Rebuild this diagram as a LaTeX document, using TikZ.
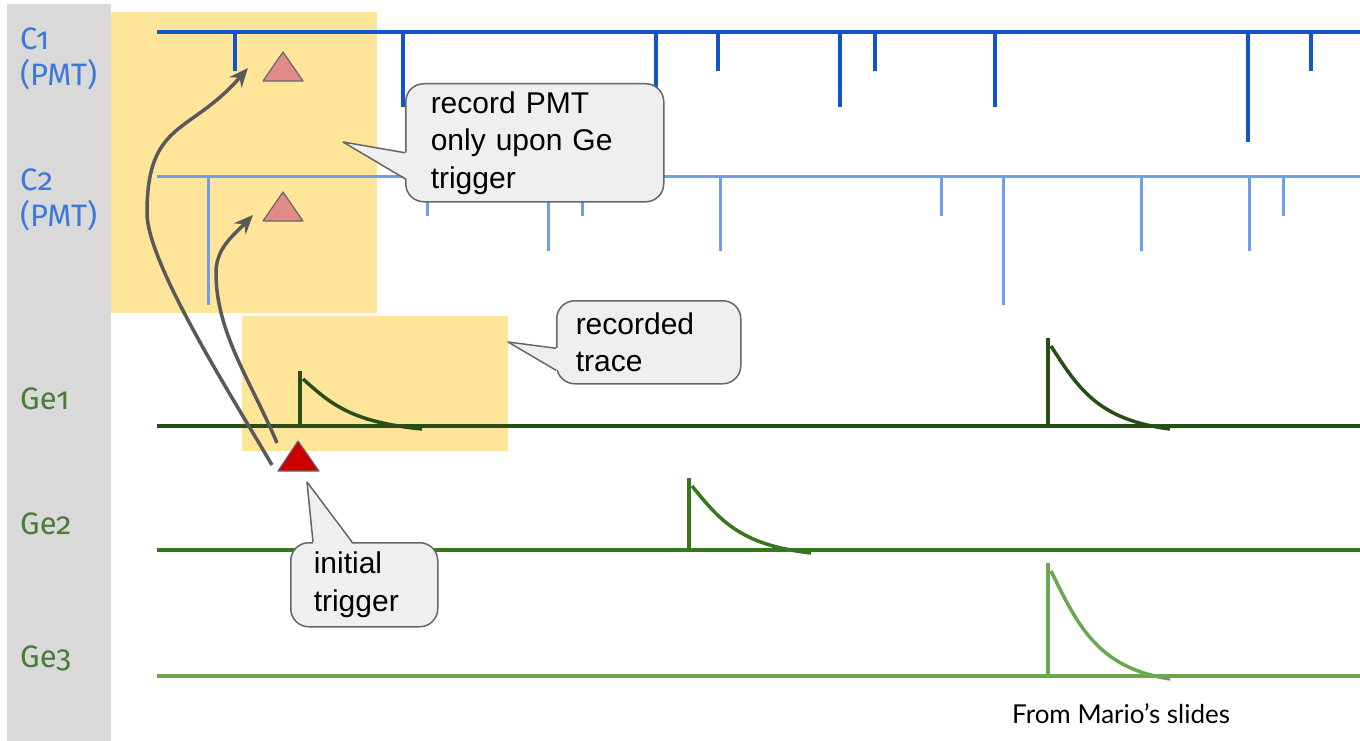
\documentclass[tikz,border=0pt]{standalone}
\usepackage{fontspec}
\setmainfont{Liberation Sans}
\newfontfamily\chanfont[Numbers=OldStyle]{Fira Sans}
\newfontfamily\notefont{Lato}
\usetikzlibrary{arrows.meta}

\definecolor{bandgray}{HTML}{D9D9D9}
\definecolor{hilite}{HTML}{FFE599}
\definecolor{pmtdark}{HTML}{1155CC}
\definecolor{pmtlight}{HTML}{6D9EEB}
\definecolor{pmtlabel}{HTML}{3C78D8}
\definecolor{geone}{HTML}{274E13}
\definecolor{getwo}{HTML}{38761D}
\definecolor{gethree}{HTML}{6AA84F}
\definecolor{gelabel}{HTML}{4A7B3C}
\definecolor{calloutfill}{HTML}{EFEFEF}
\definecolor{calloutline}{HTML}{666666}
\definecolor{arrowgray}{HTML}{595959}
\definecolor{pinktrig}{HTML}{E08A8A}
\definecolor{redtrig}{HTML}{CC0000}

\begin{document}
\begin{tikzpicture}[x=1pt,y=-1pt,
    chanlabel/.style={anchor=base west, inner sep=0pt, font=\chanfont\fontsize{31}{33}\selectfont},
    callout/.style={draw=calloutline, fill=calloutfill, line width=1.5pt, rounded corners=18pt,
        anchor=north west, align=left, inner ysep=0pt, font=\fontsize{30}{37.5}\selectfont},
    pointer/.style={draw=calloutline, line width=1.5pt, line join=round},
    trigarrow/.style={draw=arrowgray, line width=3.5pt, -{Stealth[length=19pt,width=16pt]}}]

\fill[white] (0,0) rectangle (1360,741);
\useasboundingbox (0,0) rectangle (1360,741);

% side band and recorded windows
\fill[bandgray] (7,4) rectangle (111,741);
\fill[hilite] (111,12) rectangle (377,313);
\fill[hilite] (242,316) rectangle (508,451);

% channel names
\node[chanlabel, pmtlabel] (labCa) at (20,50) {C1};
\node[chanlabel, pmtlabel] (labCb) at (20,86) {(PMT)};
\node[chanlabel, pmtlabel] (labCc) at (20,190) {C2};
\node[chanlabel, pmtlabel] (labCd) at (20,226) {(PMT)};
\node[chanlabel, gelabel] (labGa) at (20,409) {Ge1};
\node[chanlabel, gelabel] (labGb) at (20,534) {Ge2};
\node[chanlabel, gelabel] (labGc) at (20,667) {Ge3};

% C1 trace
\draw[pmtdark, line width=3.5pt] (157,32) -- (1360,32);
\draw[pmtdark, line width=3.5pt] (235,32) -- (235,71);
\draw[pmtdark, line width=3.5pt] (403,32) -- (403,107);
\draw[pmtdark, line width=3.5pt] (656,32) -- (656,107);
\draw[pmtdark, line width=3.5pt] (718,32) -- (718,71);
\draw[pmtdark, line width=3.5pt] (840,32) -- (840,107);
\draw[pmtdark, line width=3.5pt] (875,32) -- (875,71);
\draw[pmtdark, line width=3.5pt] (995,32) -- (995,107);
\draw[pmtdark, line width=3.5pt] (1248,32) -- (1248,142);
\draw[pmtdark, line width=3.5pt] (1311,32) -- (1311,71);

% C2 trace
\draw[pmtlight, line width=3pt] (157,176) -- (1360,176);
\draw[pmtlight, line width=3pt] (208,176) -- (208,305);
\draw[pmtlight, line width=3pt] (427,176) -- (427,216);
\draw[pmtlight, line width=3pt] (548,176) -- (548,251);
\draw[pmtlight, line width=3pt] (582,176) -- (582,216);
\draw[pmtlight, line width=3pt] (720,176) -- (720,251);
\draw[pmtlight, line width=3pt] (941,176) -- (941,216);
\draw[pmtlight, line width=3pt] (1003,176) -- (1003,305);
\draw[pmtlight, line width=3pt] (1141,176) -- (1141,251);
\draw[pmtlight, line width=3pt] (1249,176) -- (1249,251);
\draw[pmtlight, line width=3pt] (1283,176) -- (1283,216);

% Ge traces
\draw[geone, line width=3.5pt] (157,426) -- (1360,426);
\draw[geone, line width=3.5pt] (300,426) -- (300,371);
\draw[geone, line width=3.5pt] (303,379) .. controls (330,403) and (350,422) .. (422,429);
\draw[geone, line width=3.5pt] (1048,426) -- (1048,338);
\draw[geone, line width=3.5pt] (1051,346) .. controls (1078,388) and (1098,420) .. (1170,429);

\draw[getwo, line width=3.5pt] (157,550) -- (1360,550);
\draw[getwo, line width=3.5pt] (689,550) -- (689,478);
\draw[getwo, line width=3.5pt] (692,486) .. controls (719,519) and (739,545) .. (811,553);

\draw[gethree, line width=3.5pt] (157,676) -- (1360,676);
\draw[gethree, line width=3.5pt] (1048,676) -- (1048,563);
\draw[gethree, line width=3.5pt] (1051,571) .. controls (1078,626) and (1098,668) .. (1170,679);

% triggers
\filldraw[fill=pinktrig, draw=calloutline, line width=1.2pt, line join=round] (263,81) -- (283,52) -- (303,81) -- cycle;
\filldraw[fill=pinktrig, draw=calloutline, line width=1.2pt, line join=round] (263,221) -- (283,192) -- (303,221) -- cycle;
\filldraw[fill=redtrig, draw=calloutline, line width=1.2pt, line join=round] (278,471) -- (298,441) -- (319,471) -- cycle;

\coordinate (outerFrom) at (272,465);
\coordinate (outerBend) at (147,213);
\coordinate (outerTo) at (248,68);
\coordinate (innerFrom) at (277,443);
\coordinate (innerBend) at (216,273);
\coordinate (innerTo) at (253,215);
\draw[trigarrow] (outerFrom) .. controls (231,395) and (147,263) .. (outerBend)
    .. controls (147,120) and (190,135) .. (outerTo);
\draw[trigarrow] (innerFrom) .. controls (252,383) and (216,333) .. (innerBend)
    .. controls (216,248) and (233,236) .. (innerTo);

% callouts
\node[callout, minimum width=258pt, minimum height=118pt, inner xsep=25pt, text width=208pt]
    (callRec) at (405,83) {record PMT\\only upon Ge\\trigger};
\coordinate (recTip) at (343,142);
\fill[calloutfill] ([xshift=2pt,yshift=-10pt]callRec.west) -- (recTip) -- ([xshift=2pt,yshift=-36pt]callRec.west) -- cycle;
\draw[pointer] ([yshift=-10pt]callRec.west) -- (recTip) -- ([yshift=-36pt]callRec.west);

\node[callout, minimum width=184pt, minimum height=83pt, inner xsep=19pt, text width=146pt]
    (callTrace) at (556,300) {recorded\\trace};
\coordinate (traceTip) at (508,342);
\fill[calloutfill] ([xshift=2pt,yshift=-6pt]callTrace.west) -- (traceTip) -- ([xshift=2pt,yshift=-28pt]callTrace.west) -- cycle;
\draw[pointer] ([yshift=-6pt]callTrace.west) -- (traceTip) -- ([yshift=-28pt]callTrace.west);

\node[callout, minimum width=147pt, minimum height=84pt, inner xsep=23pt, text width=101pt]
    (callInit) at (290,542) {initial\\trigger};
\coordinate (initTip) at (307,482);
\fill[calloutfill] ([xshift=23pt,yshift=-2pt]callInit.north west) -- (initTip) -- ([xshift=62pt,yshift=-2pt]callInit.north west) -- cycle;
\draw[pointer] ([xshift=23pt]callInit.north west) -- (initTip) -- ([xshift=62pt]callInit.north west);

\node[anchor=base west, inner sep=0pt, font=\notefont\fontsize{26}{28}\selectfont] (source) at (1012,723) {From Mario’s slides};

\end{tikzpicture}
\end{document}
